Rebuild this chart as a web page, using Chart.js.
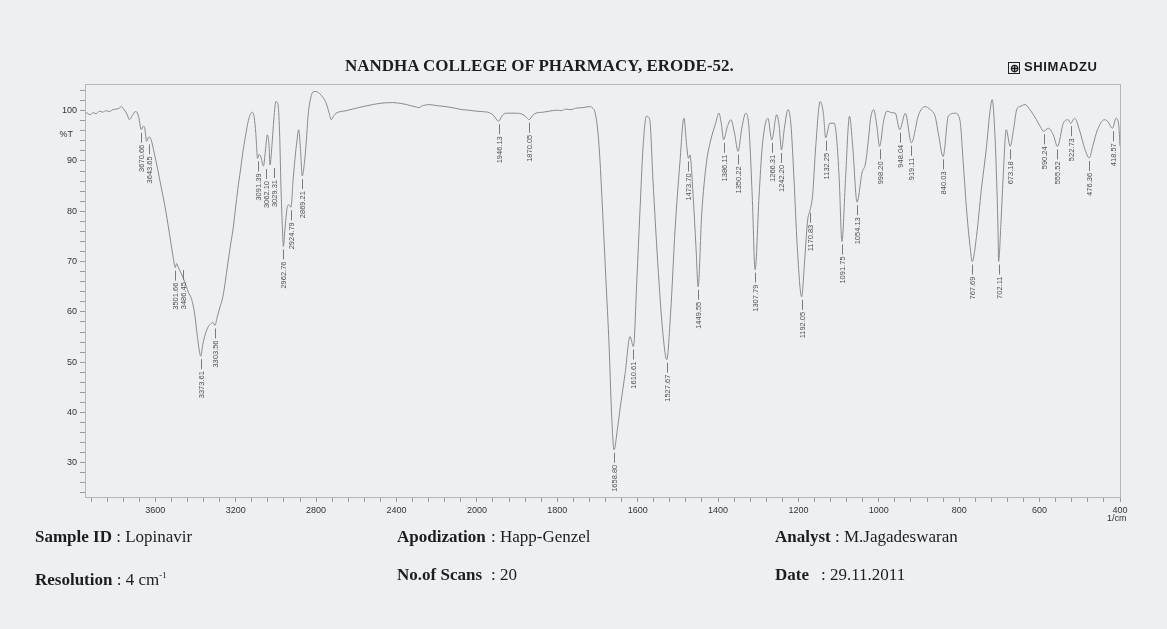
<!DOCTYPE html>
<html>
<head>
<meta charset="utf-8">
<script src="https://cdn.jsdelivr.net/npm/chart.js@4.4.1/dist/chart.umd.min.js"></script>
<style>
html,body{margin:0;padding:0;}
body{width:1167px;height:629px;background:#edeff3;position:relative;overflow:hidden;font-family:"Liberation Serif","Times New Roman",serif;color:#1d1d1d;}
#c{position:absolute;left:0;top:0;}
.t{position:absolute;white-space:nowrap;font-size:17px;line-height:18px;}
.b{font-weight:bold;}
.lab{display:inline-block;}
#title{left:345px;top:57px;font-weight:bold;font-size:17px;}
#logo{left:1008px;top:58px;font-family:"Liberation Sans",Arial,sans-serif;font-weight:bold;font-size:13px;letter-spacing:0.6px;}
#logo .box{display:inline-block;border:1.5px solid #222;width:10px;height:10px;line-height:10px;text-align:center;font-size:11px;margin-right:4px;vertical-align:-1px;letter-spacing:0;}
#unit{left:1107px;top:513px;font-family:"Liberation Sans",Arial,sans-serif;font-size:9px;line-height:10px;color:#333;}
</style>
</head>
<body>
<canvas id="c" width="1167" height="629"></canvas>
<div class="t" id="title">NANDHA COLLEGE OF PHARMACY, ERODE-52.</div>
<div class="t" id="logo"><span class="box">&#8853;</span>SHIMADZU</div>
<div class="t" id="unit">1/cm</div>
<div class="t" style="left:35px;top:528px;"><span class="b">Sample ID</span> : Lopinavir</div>
<div class="t" style="left:35px;top:566px;"><span class="b">Resolution</span> : 4 cm<sup style="font-size:9px;">-1</sup></div>
<div class="t" style="left:397px;top:528px;"><span class="b lab" style="width:94px;">Apodization</span>: Happ-Genzel</div>
<div class="t" style="left:397px;top:566px;"><span class="b lab" style="width:94px;">No.of Scans</span>: 20</div>
<div class="t" style="left:775px;top:528px;"><span class="b">Analyst</span> : M.Jagadeswaran</div>
<div class="t" style="left:775px;top:566px;"><span class="b lab" style="width:46px;">Date</span>: 29.11.2011</div>
<script>
// ---- data (wavenumber in 1/cm, transmittance in %T) ----
const WAVENUMBERS = [
3950,3945,3925,3910,3895,3878,3862,3845,3828,3812,3795,3780,3770,3755,3740,3729,3715,3700,3692,3682,
3670.66,3660,3654,3643.65,3632,3621,3605,3588,3572,3555,3542,3530,3518,3510,3501.66,3494,3486.45,3478,3462,3447,
3435,3422,3405,3389,3373.61,3364,3355,3340,3325,3314,3303.56,3292,3278,3264,3252,3239,3227,3214,3202,3190,
3177,3165,3152,3140,3128,3118,3108,3100,3091.39,3084,3075,3062.10,3052,3043,3035,3029.31,3020,3010,3000,2990,
2982,2975,2968,2962.76,2955,2945,2935,2924.79,2915,2905,2896,2887,2878,2869.21,2860,2849,2840,2832,2816,2800,
2783,2765,2750,2735,2725,2712,2700,2650,2600,2568,2520,2473,2420,2373,2330,2300,2288,2275,2238,2200,
2154,2110,2073,2040,2004,1985,1969,1958,1946.13,1937,1928,1903,1885,1876,1870.05,1862,1853,1835,1820,1800,
1790,1779,1766,1754,1737,1721,1713,1704,1696,1687,1679,1671,1665,1658.80,1650.5,1643,1631,1619,1610.61,1602,
1594.5,1586.5,1578,1570,1562,1550,1538,1527.67,1518,1507,1495,1485,1478,1473.70,1470,1462,1455,1449.55,1441,1429,
1418,1406,1398,1392,1386.11,1377,1368,1359,1350.22,1341,1331,1323,1315,1307.79,1298,1290,1276,1266.31,1254,1248,
1242.20,1235,1226,1219,1211,1203,1192.05,1185,1177,1170.83,1165,1157,1146,1138,1132.25,1122,1111,1105,1098.5,1091.75,
1083,1073,1065,1054.13,1042,1033,1025,1021,1013,1005,998.20,988,980,968,959,948.04,934,919.11,901,885,
872,860,852,840.03,827,810,798,790,781,773,767.69,757,745,732,724,718,711,707,703.5,702.11,
696,691,683,673.18,665,657,649,636,624,608,598,590.24,578,566,555.52,541,529,522.73,513,501,
488,476.36,468,456,439,431,418.57,410,403,400
];
const TRANSMITTANCE = [
99.5,99.6,99.2,99.6,99.4,99.9,99.7,100.0,99.8,100.2,100.3,100.5,100.8,100.2,99.2,98.2,99.0,99.8,99.7,98.6,
96.2,96.9,96.8,93.9,94.8,94.2,91.5,88.3,85.0,81.6,78.6,75.6,72.5,70.6,68.8,69.6,68.9,68.2,66.8,65.2,
63.8,62.8,59.8,54.5,51.2,53.5,55.1,56.8,57.6,57.9,57.3,59.0,61.0,63.0,66.0,69.7,73.0,76.3,80.3,84.3,
88.0,91.6,94.8,97.5,99.2,99.7,98.6,95.5,90.5,91.3,90.8,89.0,92.2,95.2,93.5,89.2,93.0,98.5,101.8,101.3,
96.0,85.0,77.0,73.0,76.5,80.5,81.3,80.8,86.0,90.5,93.8,96.2,92.5,87.0,89.0,93.8,99.0,101.5,103.7,103.8,
103.4,102.6,101.5,99.5,98.2,99.0,99.5,100.0,100.5,100.8,101.2,101.5,101.6,101.4,101.0,100.7,100.6,100.9,101.2,101.0,
100.8,100.5,100.2,100.1,99.9,99.8,99.6,99.0,97.9,99.0,99.5,99.5,99.2,98.6,98.2,99.0,99.5,99.7,99.9,100.1,
100.0,100.3,100.2,100.5,100.6,100.8,100.6,98.9,92.9,79.6,66.4,53.1,39.9,32.6,36.6,41.2,47.9,55.1,53.1,66.4,
79.7,92.9,98.9,98.2,86.3,69.7,56.4,50.5,59.8,76.3,89.6,98.5,93.0,90.5,91.2,83.0,73.0,65.0,79.0,89.6,
94.2,97.5,99.5,97.5,94.2,96.8,98.2,95.5,91.9,96.5,99.5,96.5,83.0,68.4,83.0,92.9,98.5,94.2,99.2,97.0,
92.2,96.5,100.2,97.5,86.3,73.0,63.0,69.7,78.3,80.3,83.0,92.9,101.8,99.5,94.6,97.5,97.5,94.5,86.3,74.0,
86.3,98.9,92.9,81.8,87.6,89.6,95.0,98.2,100.2,97.0,92.9,98.0,99.9,99.6,99.5,96.2,99.5,93.6,99.2,100.8,
100.2,98.9,95.5,90.9,98.9,99.5,98.0,89.6,79.6,73.0,70.0,75.0,84.3,92.9,99.5,102.2,95.0,86.3,76.3,70.0,
78.0,86.3,96.2,92.9,96.2,100.2,100.8,101.2,100.2,98.2,96.8,95.9,96.5,95.2,92.9,97.5,98.2,97.5,98.5,96.2,
92.5,90.6,92.9,96.2,98.2,97.9,96.5,98.5,97.0,93.0
];
// labelled peaks (1/cm)
const PEAK_WAVENUMBERS = [
3670.66,3643.65,3501.66,3486.45,3373.61,3303.56,3091.39,3062.10,3029.31,2962.76,2924.79,2869.21,
1946.13,1870.05,1658.80,1610.61,1527.67,1473.70,1449.55,1386.11,1350.22,1307.79,1266.31,1242.20,
1192.05,1170.83,1132.25,1091.75,1054.13,998.20,948.04,919.11,840.03,767.69,702.11,673.18,
590.24,555.52,522.73,476.36,418.57
];
const X_TICK_LABELS = [3600,3200,2800,2400,2000,1800,1600,1400,1200,1000,800,600,400];
const Y_TICK_LABELS = [30,40,50,60,70,80,90,100];
const X_RANGE = [3950, 400];
const Y_RANGE = [23.2, 105.3];

// Shimadzu split abscissa: 4000-2000 drawn at half the scale of 2000-400
function toPos(w){ return w >= 2000 ? (4000 - w) / 2 : 1000 + (2000 - w); }
function toWn(p){ return p <= 1000 ? 4000 - 2 * p : 2000 - (p - 1000); }

const points = WAVENUMBERS.map((w, i) => ({x: toPos(w), y: TRANSMITTANCE[i]}));
const minorTicks = [];
for (let p = 40; p <= toPos(X_RANGE[1]) + 0.01; p += 40) minorTicks.push(p);

const frame = {
  id: 'frame',
  afterDraw(chart){
    const {ctx, chartArea: a, scales: {y}} = chart;
    ctx.save();
    ctx.strokeStyle = '#b4b6ba';
    ctx.lineWidth = 1;
    ctx.strokeRect(a.left + 0.5, a.top + 0.5, a.right - a.left, a.bottom - a.top);
    ctx.fillStyle = '#333';
    ctx.font = '9px "Liberation Sans", Arial, sans-serif';
    ctx.textAlign = 'right';
    ctx.textBaseline = 'middle';
    ctx.fillText('%T', a.left - 12, y.getPixelForValue(95.3));
    ctx.restore();
  }
};

const peakLabels = {
  id: 'peakLabels',
  afterDatasetsDraw(chart){
    const {ctx, scales: {x, y}} = chart;
    ctx.save();
    ctx.strokeStyle = '#7a7a7a';
    ctx.fillStyle = '#505050';
    ctx.lineWidth = 1;
    ctx.font = '7.5px "Liberation Sans", Arial, sans-serif';
    let prev = -Infinity;
    PEAK_WAVENUMBERS.forEach(w => {
      const i = WAVENUMBERS.indexOf(w);
      let px = x.getPixelForValue(toPos(w));
      if (px - prev < 8) px = prev + 8;
      prev = px;
      const lx = Math.round(px) + 0.5;
      const py = y.getPixelForValue(TRANSMITTANCE[i]);
      ctx.beginPath();
      ctx.moveTo(lx, py + 3);
      ctx.lineTo(lx, py + 13);
      ctx.stroke();
      ctx.save();
      ctx.translate(lx, py + 15);
      ctx.rotate(-Math.PI / 2);
      ctx.textAlign = 'right';
      ctx.textBaseline = 'middle';
      ctx.fillText(w.toFixed(2), 0, 0);
      ctx.restore();
    });
    ctx.restore();
  }
};

new Chart(document.getElementById('c'), {
  type: 'line',
  data: {
    datasets: [{
      data: points,
      borderColor: '#8a8a8a',
      borderWidth: 1,
      pointRadius: 0,
      fill: false,
      cubicInterpolationMode: 'monotone'
    }]
  },
  options: {
    responsive: false,
    devicePixelRatio: 1,
    animation: false,
    layout: {padding: {left: 50, top: 84, right: 47, bottom: 102}},
    plugins: {legend: {display: false}, tooltip: {enabled: false}, title: {display: false}},
    scales: {
      x: {
        type: 'linear',
        min: toPos(X_RANGE[0]),
        max: toPos(X_RANGE[1]),
        afterBuildTicks: s => { s.ticks = minorTicks.map(v => ({value: v})); },
        afterFit: s => { s.height = 30; },
        ticks: {
          autoSkip: false, maxRotation: 0, minRotation: 0, padding: 3,
          color: '#333', font: {family: '"Liberation Sans", Arial, sans-serif', size: 9},
          callback: v => { const w = Math.round(toWn(v)); return X_TICK_LABELS.includes(w) ? String(w) : ''; }
        },
        grid: {drawOnChartArea: false, drawTicks: true, tickLength: 5, color: '#9a9a9a'},
        border: {display: true, color: '#9a9a9a'}
      },
      y: {
        min: Y_RANGE[0],
        max: Y_RANGE[1],
        afterFit: s => { s.width = 35; },
        ticks: {
          stepSize: 2, includeBounds: false, autoSkip: false, padding: 3,
          color: '#333', font: {family: '"Liberation Sans", Arial, sans-serif', size: 9},
          callback: v => { const r = Math.round(v); return (Math.abs(v - r) < 1e-6 && Y_TICK_LABELS.includes(r)) ? String(r) : ''; }
        },
        grid: {drawOnChartArea: false, drawTicks: true, tickLength: 5, color: '#9a9a9a'},
        border: {display: true, color: '#9a9a9a'}
      }
    }
  },
  plugins: [frame, peakLabels]
});
</script>
</body>
</html>
